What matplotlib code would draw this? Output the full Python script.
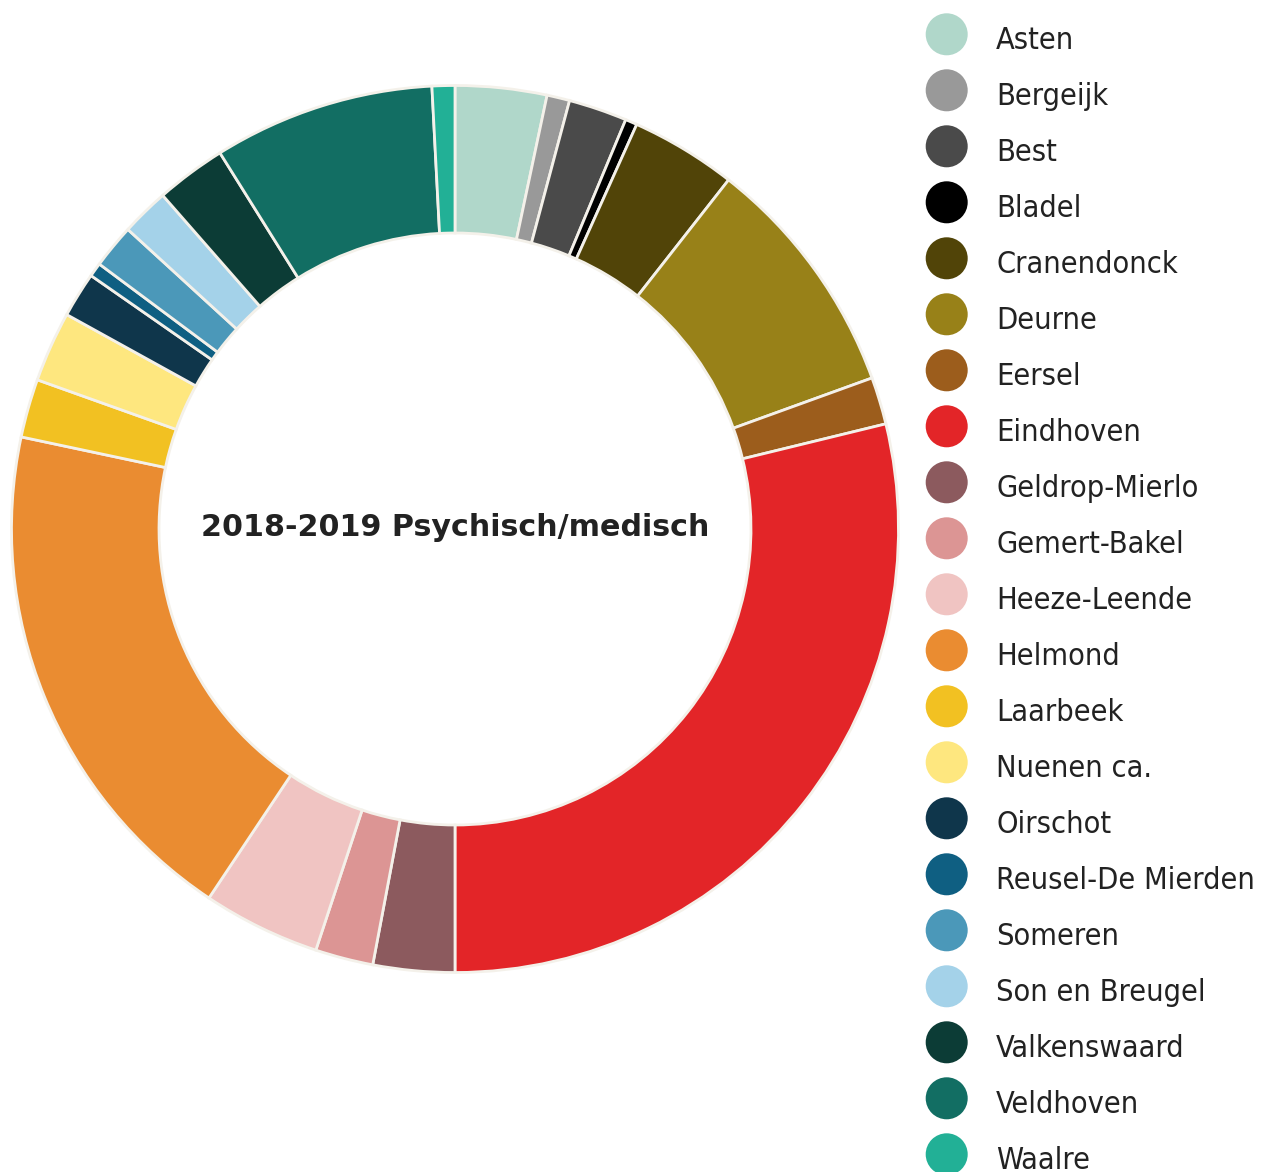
import matplotlib
matplotlib.use("Agg")
import matplotlib.pyplot as plt
from matplotlib.patches import Circle

categories = ["Asten", "Bergeijk", "Best", "Bladel", "Cranendonck", "Deurne", "Eersel",
              "Eindhoven", "Geldrop-Mierlo", "Gemert-Bakel", "Heeze-Leende", "Helmond",
              "Laarbeek", "Nuenen ca.", "Oirschot", "Reusel-De Mierden", "Someren",
              "Son en Breugel", "Valkenswaard", "Veldhoven", "Waalre"]
values = [3.33, 0.83, 2.13, 0.43, 3.86, 8.89, 1.72, 28.81, 2.97, 2.11, 4.28, 18.97,
          2.13, 2.57, 1.65, 0.51, 1.61, 1.75, 2.56, 8.06, 0.83]
colors = ["#b0d7ca", "#999999", "#4a4a4a", "#000000", "#514408", "#988118", "#9c5d1c",
          "#e32528", "#8c5a5e", "#dc9594", "#f0c4c2", "#ea8c31", "#f2c122", "#fee77f",
          "#0f364b", "#0f5f82", "#4b98b9", "#a4d2e9", "#0c3c36", "#126e63", "#22b096"]
title = "2018-2019 Psychisch/medisch"

W, H = 1262, 1172
fig = plt.figure(figsize=(W / 100, H / 100), dpi=100)
ax = fig.add_axes([0, 0, 1, 1])
ax.set_xlim(0, W)
ax.set_ylim(H, 0)
ax.set_aspect("equal")
ax.axis("off")

cx, cy, R = 455, 529, 443.5
ax.pie(values, colors=colors, center=(cx, cy), radius=R, startangle=270,
       counterclock=True, normalize=True,
       wedgeprops=dict(width=R - 296, edgecolor="#f4f1ea", linewidth=2))
ax.set_xlim(0, W)
ax.set_ylim(H, 0)

ax.text(cx, cy - 2, title, ha="center", va="center", fontsize=21.7,
        fontweight="bold", color="#222222", family="DejaVu Sans")

for i, (name, col) in enumerate(zip(categories, colors)):
    y = 34.3 + i * 56
    ax.add_patch(Circle((946.7, y), 21, facecolor=col, edgecolor="none"))
    ax.text(996, y + 14.5, name, ha="left", va="baseline", fontsize=22,
            color="#222222", family="DejaVu Sans", fontstretch="condensed")

fig.savefig("out.png", dpi=100)
